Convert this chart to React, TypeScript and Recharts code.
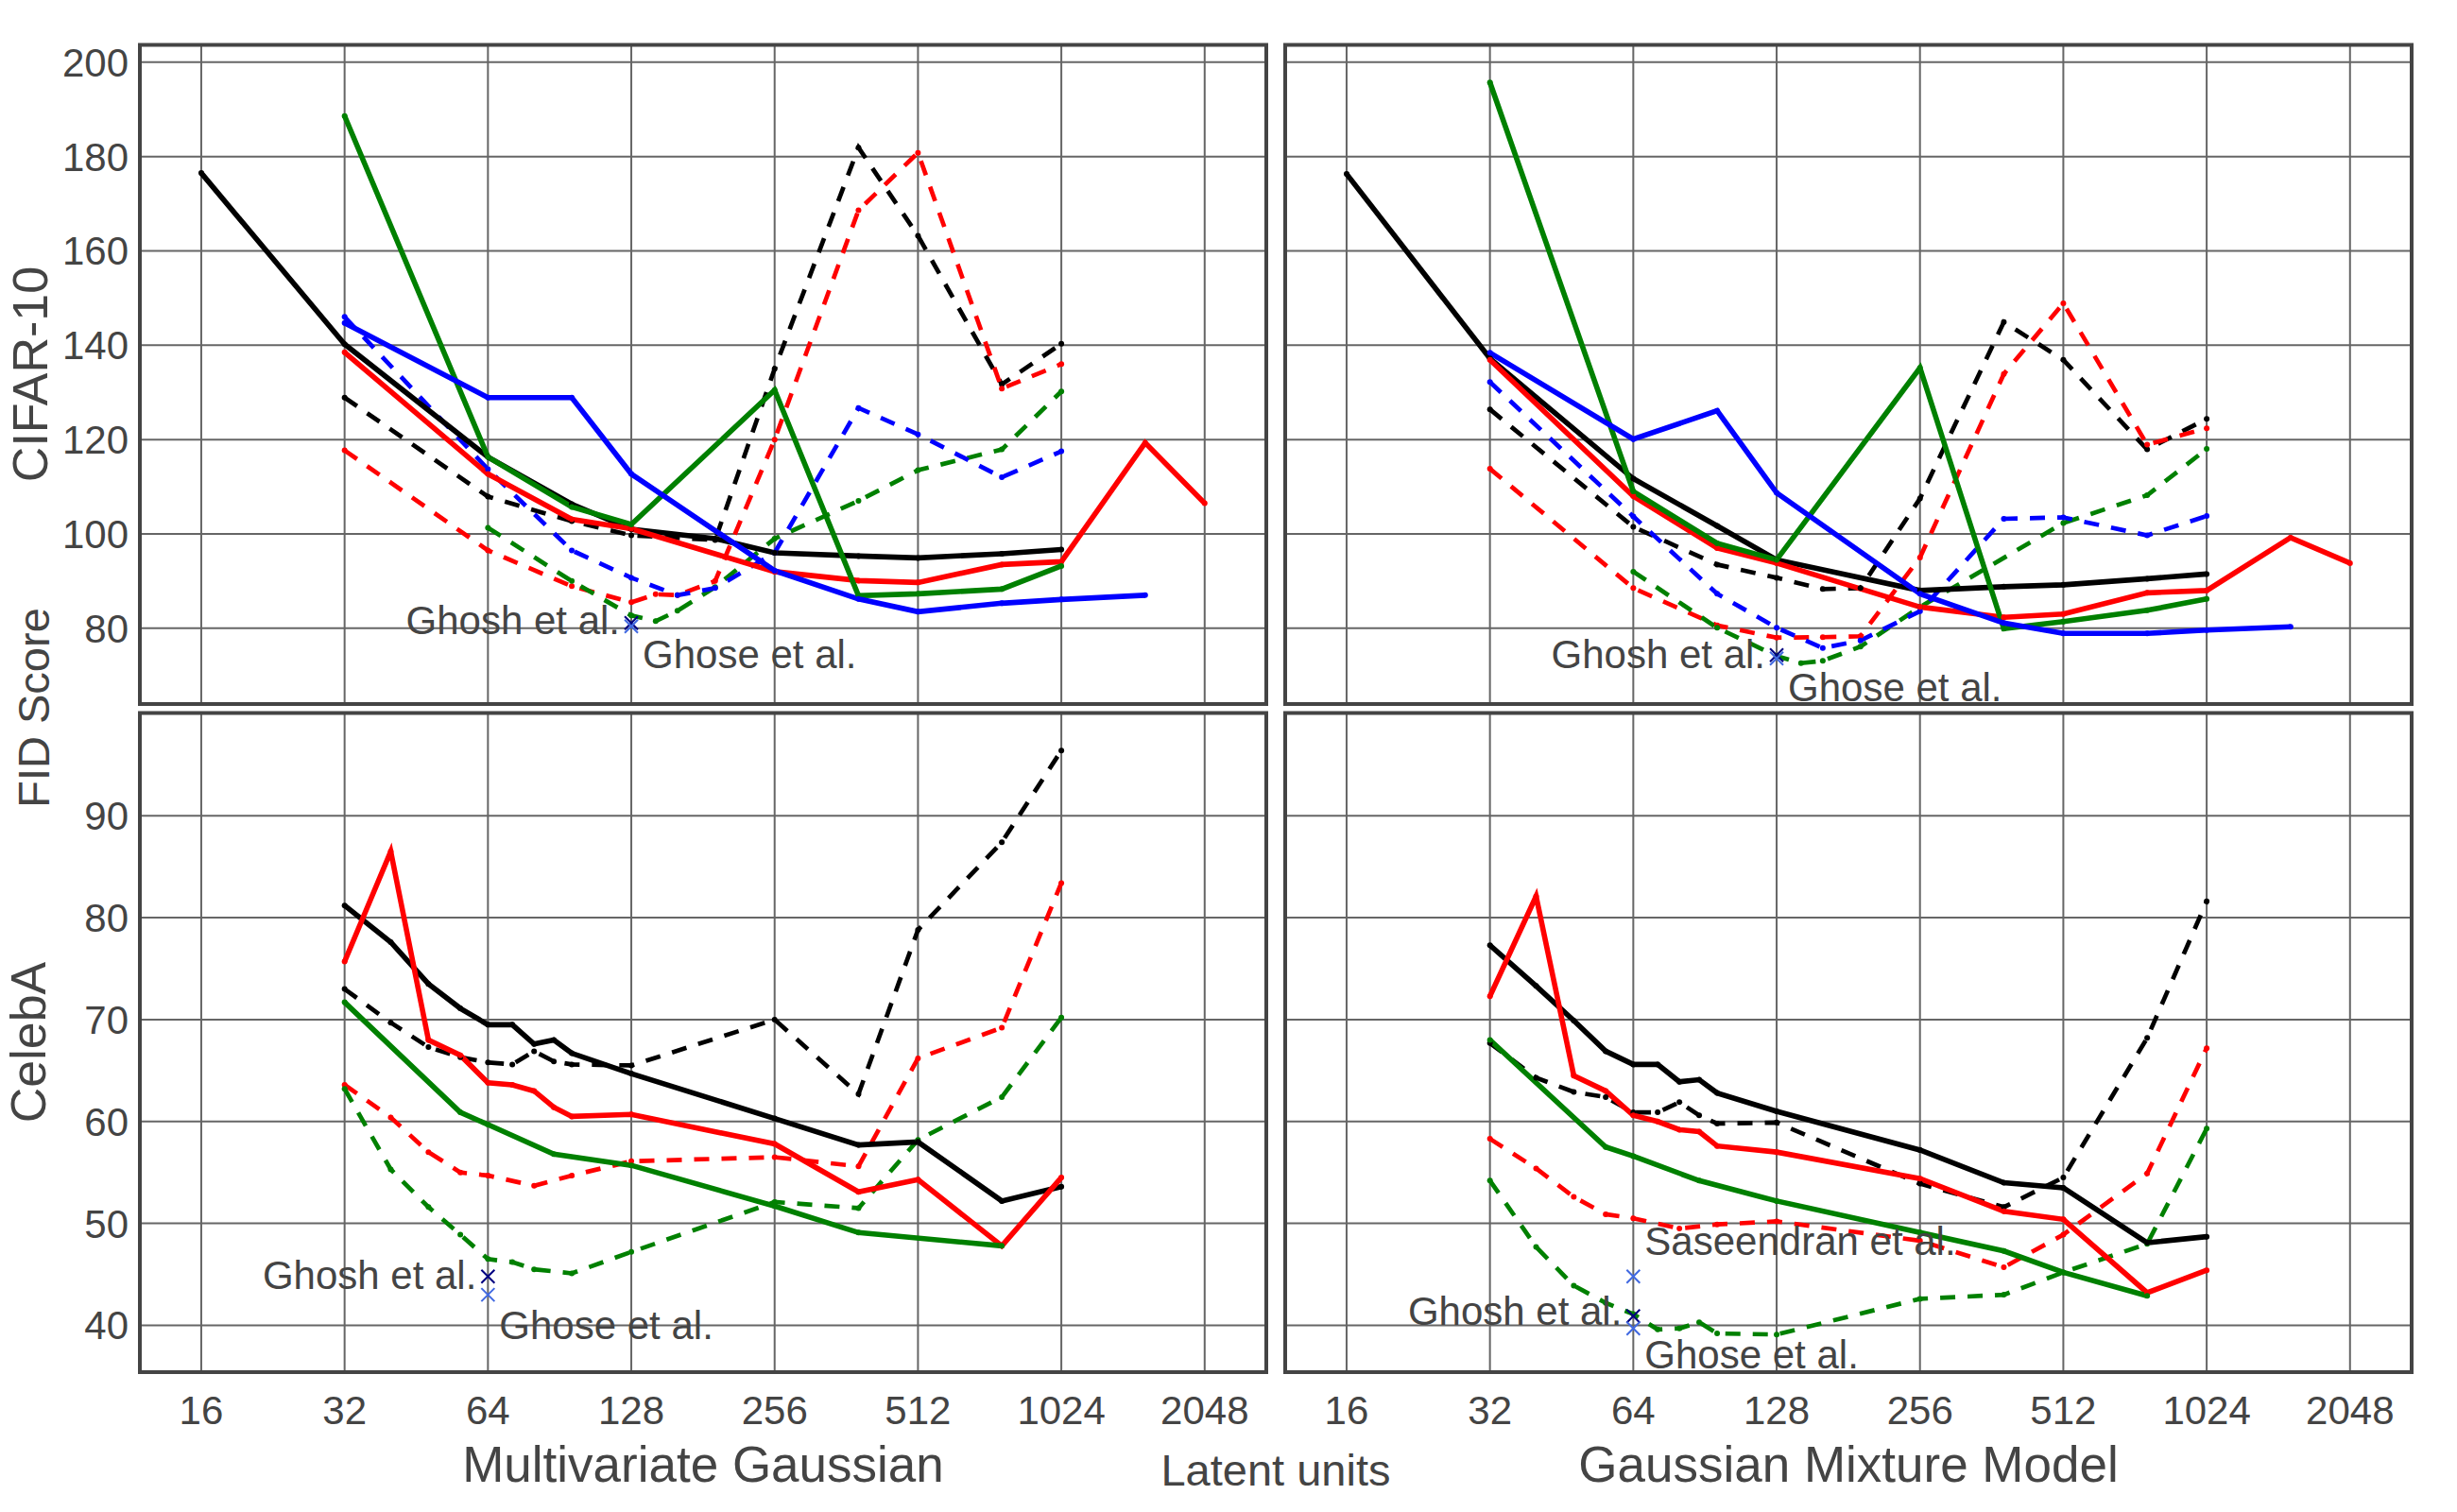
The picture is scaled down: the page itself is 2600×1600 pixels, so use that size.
import React from 'react';
import { ComposedChart, Line, Scatter, XAxis, YAxis, CartesianGrid } from 'recharts';

// shared axes
const xTicks = [16, 32, 64, 128, 256, 512, 1024, 2048];
const xDomain = [11.89, 2759];
const cifarTicks = [80, 100, 120, 140, 160, 180, 200];
const cifarDomain = [63.83, 203.57];
const celebaTicks = [40, 50, 60, 70, 80, 90];
const celebaDomain = [35.36, 100.04];

// Multivariate Gaussian / CIFAR-10
const mgCifarBlackX = [16, 32, 64, 96, 128, 192, 256, 384, 512, 768, 1024];
const mgCifarBlackY = [176.5, 140.2, 116.3, 106.3, 101.0, 99.0, 96.0, 95.3, 94.9, 95.8, 96.7];
const mgCifarBlueX = [32, 64, 96, 128, 256, 384, 512, 768, 1024, 1536];
const mgCifarBlueY = [144.7, 128.9, 128.9, 112.7, 92.2, 86.2, 83.5, 85.3, 86.1, 87.0];
const mgCifarRedX = [32, 64, 96, 128, 256, 384, 512, 768, 1024, 1536, 2048];
const mgCifarRedY = [138.5, 112.7, 103.1, 101.1, 92.0, 90.1, 89.7, 93.5, 94.1, 119.3, 106.5];
const mgCifarGreenX = [32, 64, 96, 128, 256, 384, 512, 768, 1024];
const mgCifarGreenY = [188.6, 116.3, 105.7, 102.0, 130.5, 86.9, 87.3, 88.3, 93.2];
const mgCifarBlackDashX = [32, 64, 96, 128, 192, 256, 384, 512, 768, 1024];
const mgCifarBlackDashY = [128.9, 107.9, 102.7, 99.7, 98.7, 135.0, 181.9, 163.2, 131.7, 140.3];
const mgCifarRedDashX = [32, 64, 96, 128, 144, 160, 192, 256, 384, 512, 768, 1024];
const mgCifarRedDashY = [117.7, 96.5, 88.9, 85.5, 87.2, 87.0, 90.0, 120.0, 168.6, 180.8, 130.8, 136.0];
const mgCifarBlueDashX = [32, 64, 96, 128, 160, 192, 256, 384, 512, 768, 1024];
const mgCifarBlueDashY = [146.0, 113.7, 96.5, 90.7, 87.0, 88.5, 96.0, 126.7, 121.1, 112.0, 117.5];
const mgCifarGreenDashX = [64, 96, 128, 144, 160, 192, 256, 384, 512, 768, 1024];
const mgCifarGreenDashY = [101.3, 90.0, 82.7, 81.5, 83.7, 88.7, 99.0, 107.0, 113.5, 117.9, 130.2];

// Gaussian Mixture Model / CIFAR-10
const gmCifarBlackX = [16, 32, 64, 96, 128, 256, 384, 512, 768, 1024];
const gmCifarBlackY = [176.3, 137.2, 111.7, 101.7, 94.5, 88.0, 88.8, 89.2, 90.5, 91.5];
const gmCifarBlueX = [32, 64, 96, 128, 256, 384, 512, 768, 1024, 1536];
const gmCifarBlueY = [138.4, 120.1, 126.1, 108.7, 87.3, 81.1, 78.9, 78.9, 79.6, 80.3];
const gmCifarRedX = [32, 64, 96, 128, 256, 384, 512, 768, 1024, 1536, 2048];
const gmCifarRedY = [136.9, 108.0, 97.0, 93.8, 84.5, 82.3, 83.0, 87.5, 88.0, 99.2, 93.8];
const gmCifarGreenX = [32, 64, 96, 128, 256, 384, 512, 768, 1024];
const gmCifarGreenY = [195.7, 109.0, 98.0, 94.5, 135.2, 79.9, 81.4, 83.8, 86.2];
const gmCifarBlackDashX = [32, 64, 96, 128, 160, 192, 256, 384, 512, 768, 1024];
const gmCifarBlackDashY = [126.4, 101.5, 93.5, 90.7, 88.3, 88.5, 107.5, 144.9, 136.9, 117.9, 124.4];
const gmCifarRedDashX = [32, 64, 96, 128, 160, 192, 256, 384, 512, 768, 1024];
const gmCifarRedDashY = [113.8, 88.5, 80.6, 78.0, 78.1, 78.3, 95.0, 133.9, 148.9, 118.9, 122.4];
const gmCifarBlueDashX = [32, 64, 96, 128, 160, 192, 256, 384, 512, 768, 1024];
const gmCifarBlueDashY = [132.2, 103.7, 87.3, 80.1, 75.8, 77.4, 83.6, 103.2, 103.5, 99.7, 103.8];
const gmCifarGreenDashX = [64, 96, 128, 144, 160, 192, 256, 512, 768, 1024];
const gmCifarGreenDashY = [92.0, 80.1, 74.1, 72.6, 73.1, 76.1, 84.5, 102.3, 108.2, 118.0];

// Multivariate Gaussian / CelebA
const mgCelebaBlackX = [32, 40, 48, 56, 64, 72, 80, 88, 96, 128, 256, 384, 512, 768, 1024];
const mgCelebaBlackY = [81.2, 77.6, 73.5, 71.1, 69.5, 69.5, 67.6, 68.0, 66.7, 64.7, 60.3, 57.7, 58.0, 52.2, 53.6];
const mgCelebaRedX = [32, 40, 48, 56, 64, 72, 80, 88, 96, 128, 256, 384, 512, 768, 1024];
const mgCelebaRedY = [75.7, 86.5, 68.0, 66.5, 63.8, 63.6, 63.0, 61.4, 60.5, 60.7, 57.8, 53.1, 54.3, 47.8, 54.5];
const mgCelebaGreenX = [32, 56, 64, 88, 128, 256, 384, 768];
const mgCelebaGreenY = [71.7, 60.9, 59.7, 56.8, 55.7, 51.7, 49.1, 47.8];
const mgCelebaBlackDashX = [32, 40, 48, 56, 64, 72, 80, 88, 96, 128, 256, 384, 512, 768, 1024];
const mgCelebaBlackDashY = [73.0, 69.7, 67.3, 66.3, 65.8, 65.6, 66.9, 65.9, 65.6, 65.5, 70.0, 62.7, 78.8, 87.4, 96.4];
const mgCelebaRedDashX = [32, 40, 48, 56, 64, 80, 96, 128, 256, 384, 512, 768, 1024];
const mgCelebaRedDashY = [63.6, 60.4, 57.0, 55.0, 54.7, 53.7, 54.7, 56.1, 56.5, 55.6, 66.2, 69.2, 83.4];
const mgCelebaGreenDashX = [32, 40, 48, 56, 64, 72, 80, 96, 128, 256, 384, 512, 768, 1024];
const mgCelebaGreenDashY = [63.2, 55.3, 51.6, 48.9, 46.5, 46.2, 45.5, 45.1, 47.2, 52.1, 51.5, 58.2, 62.4, 70.2];

// Gaussian Mixture Model / CelebA
const gmCelebaBlackX = [32, 40, 48, 56, 64, 72, 80, 88, 96, 128, 256, 384, 512, 768, 1024];
const gmCelebaBlackY = [77.3, 73.3, 69.9, 66.9, 65.6, 65.6, 63.9, 64.1, 62.8, 61.0, 57.2, 54.0, 53.5, 48.1, 48.7];
const gmCelebaRedX = [32, 40, 48, 56, 64, 72, 80, 88, 96, 128, 256, 384, 512, 768, 1024];
const gmCelebaRedY = [72.3, 82.1, 64.5, 63.0, 60.6, 60.0, 59.2, 59.0, 57.6, 57.0, 54.4, 51.2, 50.4, 43.2, 45.4];
const gmCelebaGreenX = [32, 56, 64, 88, 128, 256, 384, 512, 768];
const gmCelebaGreenY = [68.0, 57.5, 56.6, 54.2, 52.2, 49.1, 47.3, 45.2, 42.9];
const gmCelebaBlackDashX = [32, 40, 48, 56, 64, 72, 80, 88, 96, 128, 256, 384, 512, 768, 1024];
const gmCelebaBlackDashY = [67.7, 64.3, 62.9, 62.4, 60.9, 60.9, 61.9, 60.6, 59.8, 59.9, 53.9, 51.6, 54.5, 68.2, 81.6];
const gmCelebaRedDashX = [32, 40, 48, 56, 64, 80, 96, 128, 256, 384, 512, 768, 1024];
const gmCelebaRedDashY = [58.3, 55.4, 52.6, 50.9, 50.5, 49.5, 49.9, 50.2, 48.3, 45.7, 48.9, 54.9, 67.2];
const gmCelebaGreenDashX = [32, 40, 48, 56, 64, 72, 80, 88, 96, 128, 256, 384, 512, 768, 1024];
const gmCelebaGreenDashY = [54.2, 47.7, 43.9, 42.2, 41.1, 39.6, 39.7, 40.3, 39.2, 39.1, 42.6, 43.0, 45.2, 48.0, 59.3];

// reference results from other papers (x marks + labels)
const mgCifarMarks = [
  { x: 128, y: 81.1, color: 'navy' },
  { x: 128, y: 80.4, color: 'royalblue' },
];
const mgCifarNotes = [
  { x: 128, y: 81.7, text: 'Ghosh et al.', side: 'left' },
  { x: 128, y: 74.4, text: 'Ghose et al.', side: 'right' },
];
const gmCifarMarks = [
  { x: 128, y: 74.3, color: 'navy' },
  { x: 128, y: 73.6, color: 'royalblue' },
];
const gmCifarNotes = [
  { x: 128, y: 74.5, text: 'Ghosh et al.', side: 'left' },
  { x: 128, y: 67.4, text: 'Ghose et al.', side: 'right' },
];
const mgCelebaMarks = [
  { x: 64, y: 44.8, color: 'navy' },
  { x: 64, y: 43.0, color: 'royalblue' },
];
const mgCelebaNotes = [
  { x: 64, y: 44.9, text: 'Ghosh et al.', side: 'left' },
  { x: 64, y: 40.0, text: 'Ghose et al.', side: 'right' },
];
const gmCelebaMarks = [
  { x: 64, y: 44.8, color: 'royalblue' },
  { x: 64, y: 40.9, color: 'navy' },
  { x: 64, y: 39.7, color: 'royalblue' },
];
const gmCelebaNotes = [
  { x: 64, y: 48.25, text: 'Saseendran et al.', side: 'right' },
  { x: 64, y: 41.4, text: 'Ghosh et al.', side: 'left' },
  { x: 64, y: 37.1, text: 'Ghose et al.', side: 'right' },
];

const TEXT = '#444';
const PW = 1192;
const PH = 697.5;
const PAD = 30;

type Series = { color: string; dashed: boolean; x: number[]; y: number[] };

const rows = (xs: number[], ys: number[]) => xs.map((x, i) => ({ x, y: ys[i] }));

const mgCifar: Series[] = [
  { color: '#000000', dashed: true, x: mgCifarBlackDashX, y: mgCifarBlackDashY },
  { color: '#ff0000', dashed: true, x: mgCifarRedDashX, y: mgCifarRedDashY },
  { color: '#008000', dashed: true, x: mgCifarGreenDashX, y: mgCifarGreenDashY },
  { color: '#0000ff', dashed: true, x: mgCifarBlueDashX, y: mgCifarBlueDashY },
  { color: '#000000', dashed: false, x: mgCifarBlackX, y: mgCifarBlackY },
  { color: '#ff0000', dashed: false, x: mgCifarRedX, y: mgCifarRedY },
  { color: '#008000', dashed: false, x: mgCifarGreenX, y: mgCifarGreenY },
  { color: '#0000ff', dashed: false, x: mgCifarBlueX, y: mgCifarBlueY },
];
const gmCifar: Series[] = [
  { color: '#000000', dashed: true, x: gmCifarBlackDashX, y: gmCifarBlackDashY },
  { color: '#ff0000', dashed: true, x: gmCifarRedDashX, y: gmCifarRedDashY },
  { color: '#008000', dashed: true, x: gmCifarGreenDashX, y: gmCifarGreenDashY },
  { color: '#0000ff', dashed: true, x: gmCifarBlueDashX, y: gmCifarBlueDashY },
  { color: '#000000', dashed: false, x: gmCifarBlackX, y: gmCifarBlackY },
  { color: '#ff0000', dashed: false, x: gmCifarRedX, y: gmCifarRedY },
  { color: '#008000', dashed: false, x: gmCifarGreenX, y: gmCifarGreenY },
  { color: '#0000ff', dashed: false, x: gmCifarBlueX, y: gmCifarBlueY },
];
const mgCeleba: Series[] = [
  { color: '#000000', dashed: true, x: mgCelebaBlackDashX, y: mgCelebaBlackDashY },
  { color: '#ff0000', dashed: true, x: mgCelebaRedDashX, y: mgCelebaRedDashY },
  { color: '#008000', dashed: true, x: mgCelebaGreenDashX, y: mgCelebaGreenDashY },
  { color: '#000000', dashed: false, x: mgCelebaBlackX, y: mgCelebaBlackY },
  { color: '#ff0000', dashed: false, x: mgCelebaRedX, y: mgCelebaRedY },
  { color: '#008000', dashed: false, x: mgCelebaGreenX, y: mgCelebaGreenY },
];
const gmCeleba: Series[] = [
  { color: '#000000', dashed: true, x: gmCelebaBlackDashX, y: gmCelebaBlackDashY },
  { color: '#ff0000', dashed: true, x: gmCelebaRedDashX, y: gmCelebaRedDashY },
  { color: '#008000', dashed: true, x: gmCelebaGreenDashX, y: gmCelebaGreenDashY },
  { color: '#000000', dashed: false, x: gmCelebaBlackX, y: gmCelebaBlackY },
  { color: '#ff0000', dashed: false, x: gmCelebaRedX, y: gmCelebaRedY },
  { color: '#008000', dashed: false, x: gmCelebaGreenX, y: gmCelebaGreenY },
];

const XMark = (props: any) => {
  const { cx, cy, payload } = props;
  const s = 7;
  return (
    <g stroke={payload.color} strokeWidth={2}>
      <line x1={cx - s} y1={cy - s} x2={cx + s} y2={cy + s} />
      <line x1={cx - s} y1={cy + s} x2={cx + s} y2={cy - s} />
    </g>
  );
};

const NoteText = (props: any) => {
  const { cx, cy, payload } = props;
  const left = payload.side === 'left';
  return (
    <text
      x={left ? cx - 12 : cx + 12}
      y={cy}
      textAnchor={left ? 'end' : 'start'}
      dominantBaseline="central"
      fontSize={42}
      fill={TEXT}
    >
      {payload.text}
    </text>
  );
};

type PanelProps = {
  left: number;
  top: number;
  series: Series[];
  marks: any[];
  notes: any[];
  yTicks: number[];
  yDomain: number[];
  showY: boolean;
  showX: boolean;
};

function Panel({ left, top, series, marks, notes, yTicks, yDomain, showY, showX }: PanelProps) {
  const yW = showY ? 140 : 0;
  const xH = showX ? 110 : 0;
  const bottom = showX ? 0 : PAD;
  return (
    <div style={{ position: 'absolute', left: left - yW, top: top - PAD }}>
      <ComposedChart
        width={PW + yW}
        height={PH + xH + PAD + bottom}
        margin={{ top: PAD, right: 0, bottom, left: 0 }}
      >
        <CartesianGrid stroke="#666" strokeWidth={2} />
        <XAxis
          type="number"
          dataKey="x"
          scale="log"
          domain={xDomain}
          ticks={xTicks}
          interval={0}
          hide={!showX}
          height={xH}
          axisLine={false}
          tickLine={false}
          tickSize={0}
          tickMargin={25}
          tick={{ fontSize: 42, fill: TEXT }}
        />
        <YAxis
          type="number"
          dataKey="y"
          domain={yDomain}
          ticks={yTicks}
          interval={0}
          hide={!showY}
          width={yW}
          axisLine={false}
          tickLine={false}
          tickSize={0}
          tickMargin={12}
          tick={{ fontSize: 42, fill: TEXT }}
        />
        {series.map((s, i) => (
          <Line
            key={i}
            data={rows(s.x, s.y)}
            dataKey="y"
            stroke={s.color}
            strokeWidth={s.dashed ? 4.7 : 5.6}
            strokeDasharray={s.dashed ? '16 13' : undefined}
            dot={{ r: 3, fill: s.color, stroke: 'none' }}
            activeDot={false}
            isAnimationActive={false}
          />
        ))}
        <Scatter data={marks} shape={XMark} isAnimationActive={false} />
        <Scatter data={notes} shape={NoteText} isAnimationActive={false} />
      </ComposedChart>
    </div>
  );
}

export default function App() {
  const frames = [
    [148, 47.5],
    [1360, 47.5],
    [148, 754.5],
    [1360, 754.5],
  ];
  return (
    <div
      style={{
        position: 'absolute',
        left: 0,
        top: 0,
        width: 2600,
        height: 1600,
        background: '#fff',
        fontFamily: '"Liberation Sans", Arial, sans-serif',
        overflow: 'hidden',
      }}
    >
      <Panel left={148} top={47.5} series={mgCifar} marks={mgCifarMarks} notes={mgCifarNotes}
        yTicks={cifarTicks} yDomain={cifarDomain} showY showX={false} />
      <Panel left={1360} top={47.5} series={gmCifar} marks={gmCifarMarks} notes={gmCifarNotes}
        yTicks={cifarTicks} yDomain={cifarDomain} showY={false} showX={false} />
      <Panel left={148} top={754.5} series={mgCeleba} marks={mgCelebaMarks} notes={mgCelebaNotes}
        yTicks={celebaTicks} yDomain={celebaDomain} showY showX />
      <Panel left={1360} top={754.5} series={gmCeleba} marks={gmCelebaMarks} notes={gmCelebaNotes}
        yTicks={celebaTicks} yDomain={celebaDomain} showY={false} showX />
      <svg width={2600} height={1600} style={{ position: 'absolute', left: 0, top: 0, pointerEvents: 'none' }}>
        {frames.map(([fx, fy], i) => (
          <rect key={i} x={fx} y={fy} width={PW} height={PH} fill="none" stroke="#444" strokeWidth={4} />
        ))}
        <text x={744} y={1568} textAnchor="middle" fontSize={53} fill={TEXT}>Multivariate Gaussian</text>
        <text x={1956} y={1568} textAnchor="middle" fontSize={53} fill={TEXT}>Gaussian Mixture Model</text>
        <text x={1350} y={1572} textAnchor="middle" fontSize={47} fill={TEXT}>Latent units</text>
        <text x={50} y={396} textAnchor="middle" fontSize={52} fill={TEXT} transform="rotate(-90 50 396)">CIFAR-10</text>
        <text x={48} y={1103} textAnchor="middle" fontSize={52} fill={TEXT} transform="rotate(-90 48 1103)">CelebA</text>
        <text x={52} y={749} textAnchor="middle" fontSize={47} fill={TEXT} transform="rotate(-90 52 749)">FID Score</text>
      </svg>
    </div>
  );
}
